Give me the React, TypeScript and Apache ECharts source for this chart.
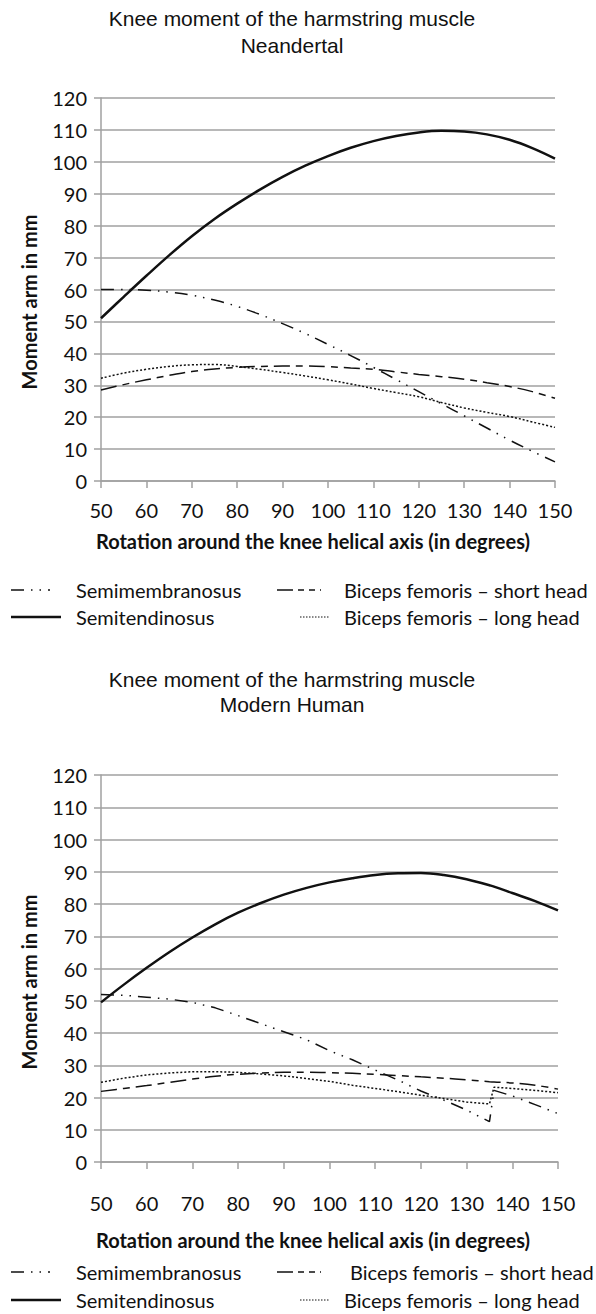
import React, { useEffect, useRef } from "react";
import * as echarts from "echarts";

// ---------- data ----------
const degreesTop = [50, 55, 60, 65, 70, 75, 80, 85, 90, 95, 100, 105, 110, 115, 120, 125, 130, 135, 140, 145, 150];
const semimembranosusTop = [60, 60, 59.8, 59.2, 58.2, 56.7, 54.7, 52.2, 49.3, 46.2, 42.8, 39.3, 35.6, 31.8, 28, 24.2, 20.4, 16.6, 12.8, 9.3, 6];
const semitendinosusTop = [51, 57.7, 64.3, 70.7, 76.7, 82.1, 86.9, 91.3, 95.3, 98.8, 101.8, 104.4, 106.5, 108.1, 109.2, 109.7, 109.5, 108.6, 106.9, 104.3, 101];
const shortHeadTop = [28.5, 30.2, 31.7, 33.1, 34.3, 35.1, 35.6, 35.9, 36, 36, 35.8, 35.4, 35, 34.2, 33.4, 32.7, 31.9, 30.8, 29.6, 28, 25.9];
const longHeadTop = [32.2, 33.8, 35, 35.9, 36.4, 36.5, 35.9, 35, 34, 32.9, 31.7, 30.4, 29, 27.7, 26.4, 24.6, 22.9, 21.5, 20.2, 18.5, 16.8];

const degreesBottom = [50, 55, 60, 65, 70, 75, 80, 85, 90, 95, 100, 105, 110, 115, 120, 125, 130, 135, 136, 140, 145, 150];
const semimembranosusBottom = [51.9, 51.7, 51.1, 50.5, 49.5, 47.8, 45.4, 42.9, 40.4, 37.9, 34.5, 31.7, 28.5, 25.4, 22, 19.2, 16.1, 12.5, 22.2, 20.5, 17.8, 15];
const semitendinosusBottom = [49.5, 55.0, 60.2, 65.1, 69.6, 73.7, 77.3, 80.3, 82.9, 85.0, 86.7, 88.0, 89.0, 89.5, 89.6, 89.0, 87.7, 85.8, 85.4, 83.4, 80.9, 78];
const shortHeadBottom = [21.9, 22.8, 23.7, 24.7, 25.7, 26.6, 27.2, 27.6, 27.8, 27.8, 27.7, 27.5, 27.2, 26.8, 26.4, 26, 25.5, 24.9, 24.8, 24.5, 23.8, 22.6];
const longHeadBottom = [24.7, 26, 27, 27.6, 28, 28, 27.8, 27.3, 26.7, 25.9, 25, 23.8, 22.8, 21.8, 20.7, 19.7, 18.6, 18, 23.2, 22.8, 22.2, 21.5];

const titleLine1 = "Knee moment of the harmstring muscle";
const titleTop = "Neandertal";
const titleBottom = "Modern Human";
const yName = "Moment arm in mm";
const xName = "Rotation around the knee helical axis (in degrees)";
const legendNames = ["Semimembranosus", "Semitendinosus", "Biceps femoris – short head", "Biceps femoris – long head"];

// ---------- styles ----------
const GRID_COLOR = "#a0a0a0";
const INK = "#111";
const TICK_FONT = "Lato";
const TITLE_FONT = "'Liberation Sans', Arial, sans-serif";
const DASH_SEMIMEM = [13, 7, 1.5, 7, 1.5, 7];
const DASH_SHORT = [16, 6, 7, 6];
const DASH_LONG = [2, 2];

const zip = (xs: number[], ys: number[]) => xs.map((x, i) => [x, ys[i]]);

function axisPair(gridIndex: number, labelMargin: number) {
  const xAxis = {
    type: "value",
    gridIndex,
    min: 50,
    max: 150,
    interval: 10,
    axisLine: { show: true, lineStyle: { color: GRID_COLOR, width: 1.5 } },
    axisTick: { show: true, length: 7, lineStyle: { color: GRID_COLOR, width: 1.5 } },
    axisLabel: { fontFamily: TICK_FONT, fontSize: 20, color: INK, margin: labelMargin },
    splitLine: { show: false },
  };
  const yAxis = {
    type: "value",
    gridIndex,
    min: 0,
    max: 120,
    interval: 10,
    axisLine: { show: true, lineStyle: { color: GRID_COLOR, width: 1.5 } },
    axisTick: { show: true, length: 7, lineStyle: { color: GRID_COLOR, width: 1.5 } },
    axisLabel: { fontFamily: TICK_FONT, fontSize: 20, color: INK, margin: 14 },
    splitLine: { show: true, lineStyle: { color: GRID_COLOR, width: 1.5 } },
  };
  return { xAxis, yAxis };
}

function lineSeries(name: string, idx: number, data: number[][], width: number, type: any, smooth: any) {
  return {
    name,
    type: "line",
    xAxisIndex: idx,
    yAxisIndex: idx,
    data,
    showSymbol: false,
    symbol: "none",
    smooth,
    lineStyle: { color: INK, width, type },
    z: 3,
  };
}

function legendBlock(y1: number, y2: number, col2Text1: number) {
  const txt = (x: number, y: number, s: string) => ({
    type: "text",
    x,
    y,
    style: { text: s, fill: INK, font: `20px ${TICK_FONT}`, textVerticalAlign: "middle" },
  });
  const ln = (x1: number, x2: number, y: number, w: number, dash: any) => ({
    type: "line",
    shape: { x1, y1: y, x2, y2: y },
    style: { stroke: INK, lineWidth: w, lineDash: dash },
  });
  return [
    ln(11, 50, y1, 1.5, DASH_SEMIMEM),
    txt(76, y1, legendNames[0]),
    ln(11, 61, y2, 2.5, null),
    txt(76, y2, legendNames[1]),
    ln(277, 321, y1, 1.5, [16, 5, 6, 5, 6, 5]),
    txt(col2Text1, y1, legendNames[2]),
    ln(300, 329, y2, 1, [1.5, 1.5]),
    txt(344, y2, legendNames[3]),
  ];
}

function chartTexts(t1: number, t2: number, sub: string, yNameY: number, xNameY: number) {
  const title = (y: number, s: string) => ({
    type: "text",
    x: 292,
    y,
    style: { text: s, fill: INK, font: `21px ${TITLE_FONT}`, textAlign: "center", textVerticalAlign: "middle" },
  });
  return [
    title(t1, titleLine1),
    title(t2, sub),
    {
      type: "text",
      x: 29,
      y: yNameY,
      rotation: Math.PI / 2,
      style: { text: yName, fill: INK, font: `bold 20px ${TICK_FONT}`, textAlign: "center", textVerticalAlign: "middle" },
    },
    {
      type: "text",
      x: 313,
      y: xNameY,
      style: { text: xName, fill: INK, font: `bold 20px ${TICK_FONT}`, textAlign: "center", textVerticalAlign: "middle" },
    },
  ];
}

export default function App() {
  const ref = useRef<HTMLDivElement>(null);
  useEffect(() => {
    if (!ref.current) return;
    const chart = echarts.init(ref.current, undefined, { renderer: "svg" });
    const a = axisPair(0, 19);
    const b = axisPair(1, 31);
    chart.setOption({
      animation: false,
      backgroundColor: "#fff",
      grid: [
        { left: 101, top: 98, width: 454, height: 383 },
        { left: 101, top: 775, width: 457, height: 387 },
      ],
      xAxis: [a.xAxis, b.xAxis],
      yAxis: [a.yAxis, b.yAxis],
      series: [
        lineSeries(legendNames[0], 0, zip(degreesTop, semimembranosusTop), 1.5, DASH_SEMIMEM, 0.4),
        lineSeries(legendNames[1], 0, zip(degreesTop, semitendinosusTop), 2.5, "solid", 0.4),
        lineSeries(legendNames[2], 0, zip(degreesTop, shortHeadTop), 1.5, DASH_SHORT, 0.4),
        lineSeries(legendNames[3], 0, zip(degreesTop, longHeadTop), 1.5, DASH_LONG, 0.4),
        lineSeries(legendNames[0], 1, zip(degreesBottom, semimembranosusBottom), 1.5, DASH_SEMIMEM, false),
        lineSeries(legendNames[1], 1, zip(degreesBottom, semitendinosusBottom), 2.5, "solid", 0.4),
        lineSeries(legendNames[2], 1, zip(degreesBottom, shortHeadBottom), 1.5, DASH_SHORT, 0.4),
        lineSeries(legendNames[3], 1, zip(degreesBottom, longHeadBottom), 1.5, DASH_LONG, false),
      ],
      graphic: [
        ...chartTexts(18, 45, titleTop, 302, 541),
        ...legendBlock(590, 617, 344),
        ...chartTexts(679, 704, titleBottom, 982, 1240),
        ...legendBlock(1272, 1300, 350),
      ],
    });
    return () => chart.dispose();
  }, []);
  return (
    <div
      ref={ref}
      style={{ position: "absolute", left: 0, top: 0, width: 596, height: 1314, background: "#fff" }}
    />
  );
}
